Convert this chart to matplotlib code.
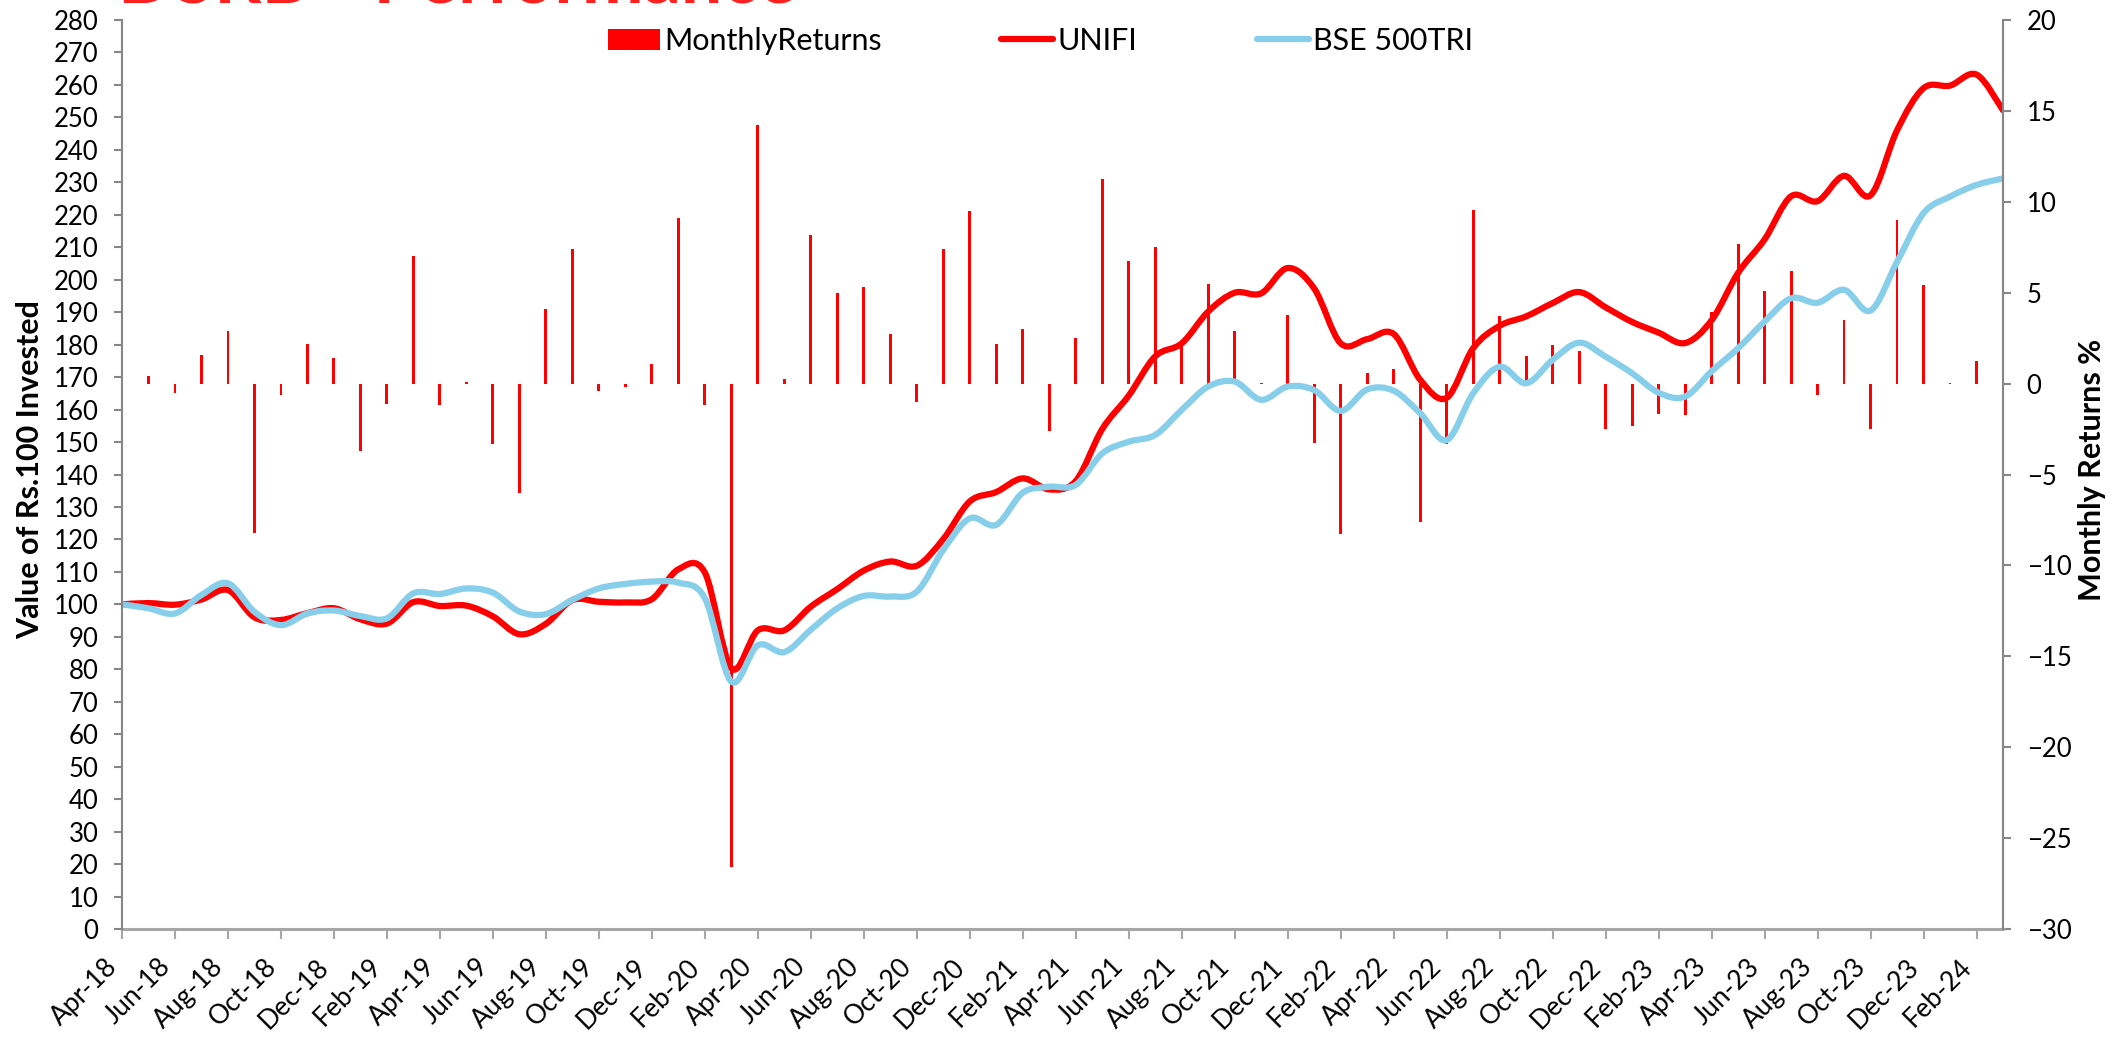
import matplotlib
matplotlib.use('Agg')
import matplotlib.pyplot as plt
from matplotlib.path import Path
from matplotlib.patches import PathPatch, Patch
from matplotlib.lines import Line2D
import numpy as np
import pandas as pd

plt.rcParams['font.family'] = ['Lato', 'DejaVu Sans']

# dados: valor de Rs.100 investido (Apr-18 .. Mar-24) e retornos mensais (May-18 .. Mar-24)
months = pd.date_range('2018-04-01', '2024-03-01', freq='MS')
month_labels = [d.strftime('%b-%y') for d in months]

unifi = [100.0, 100.4, 99.9, 101.5, 104.4, 96.0, 95.2, 97.3, 98.8, 95.4,
         94.1, 100.7, 99.5, 99.6, 96.3, 90.8, 94.0, 101.3, 100.8, 100.6,
         101.6, 110.8, 109.8, 80.3, 92.0, 92.0, 99.3, 104.7, 110.4, 113.2,
         111.9, 120.1, 131.7, 134.6, 138.8, 135.4, 138.0, 154.0, 164.3, 176.4,
         180.4, 190.2, 196.0, 195.8, 203.6, 197.3, 180.4, 181.7, 183.3, 169.2,
         163.6, 178.9, 185.8, 188.7, 192.8, 196.2, 191.5, 187.0, 183.7, 180.5,
         187.5, 202.1, 212.4, 225.7, 224.2, 232.0, 226.0, 246.0, 259.0, 259.8,
         263.2, 252.2]

bse500tri = [100.0, 98.8, 97.2, 102.9, 106.5, 97.7, 93.6, 97.2, 98.1, 96.4,
             95.7, 103.4, 103.2, 104.9, 103.6, 97.8, 97.0, 101.4, 104.9, 106.3,
             107.0, 106.7, 101.9, 76.2, 87.4, 85.3, 92.2, 98.8, 102.6, 102.4,
             103.9, 116.8, 126.5, 124.5, 134.4, 136.2, 136.8, 146.5, 150.1, 152.2,
             159.9, 167.1, 168.6, 163.0, 167.1, 166.0, 159.6, 166.2, 165.8, 158.9,
             150.6, 165.0, 173.2, 168.1, 175.3, 180.6, 176.3, 171.2, 165.2, 164.0,
             171.8, 178.9, 187.1, 194.3, 192.9, 196.9, 190.5, 205.5, 220.5, 225.6,
             229.2, 231.2]

monthly_returns = [0.4, -0.5, 1.6, 2.9, -8.2, -0.6, 2.2, 1.4, -3.7, -1.1,
                   7.0, -1.2, 0.1, -3.3, -6.0, 4.1, 7.4, -0.4, -0.2, 1.1,
                   9.1, -1.15, -26.6, 14.2, 0.25, 8.2, 5.0, 5.3, 2.75, -1.0,
                   7.4, 9.5, 2.2, 3.0, -2.6, 2.5, 11.25, 6.75, 7.5, 2.2,
                   5.5, 2.9, 0.05, 3.8, -3.25, -8.3, 0.6, 0.8, -7.6, -3.3,
                   9.55, 3.7, 1.5, 2.15, 1.8, -2.5, -2.35, -1.65, -1.75, 3.95,
                   7.7, 5.1, 6.2, -0.65, 3.5, -2.5, 9.0, 5.4, 0.05, 1.25,
                   -4.2]

RED = '#FF0000'
BLUE = '#87CEEB'
GRAY = '#868686'


def smooth_path(x, y):
    """Curva suavizada (Bezier) passando pelos pontos, como a linha suavizada do Excel"""
    p = np.column_stack([x, y]).astype(float)
    n = len(p)
    verts = [p[0]]
    codes = [Path.MOVETO]
    for i in range(n - 1):
        p0 = p[i - 1] if i > 0 else p[i]
        p3 = p[i + 2] if i + 2 < n else p[i + 1]
        c1 = p[i] + (p[i + 1] - p0) / 6.0
        c2 = p[i + 1] - (p3 - p[i]) / 6.0
        verts += [c1, c2, p[i + 1]]
        codes += [Path.CURVE4] * 3
    return Path(verts, codes)


x_line = np.arange(len(unifi))
x_bar = np.arange(1, len(monthly_returns) + 1)

fig = plt.figure(figsize=(21.10, 10.38), dpi=100)
ax = fig.add_axes([122 / 2110, 1 - 929 / 1038, (2003 - 122) / 2110, (929 - 20) / 1038])

# retornos mensais (eixo da direita), desenhados por baixo das linhas
ax.bar(x_bar, monthly_returns, width=0.11, color=RED, zorder=2)
ax.set_ylim(-30, 20)
ax.set_yticks(np.arange(-30, 21, 5))
ax.set_xlim(0, len(unifi) - 1)
ax.set_xticks(x_line[::2])
ax.set_xticklabels(month_labels[::2], rotation=45, ha='right', fontsize=19)

# valores investidos (eixo da esquerda)
ax2 = ax.twinx()
ax.yaxis.tick_right()
ax2.yaxis.tick_left()
ax2.add_patch(PathPatch(smooth_path(x_line, unifi), fill=False, edgecolor=RED,
                        lw=4.5, capstyle='round', joinstyle='round'))
ax2.add_patch(PathPatch(smooth_path(x_line, bse500tri), fill=False, edgecolor=BLUE,
                        lw=4.5, capstyle='round', joinstyle='round'))
ax2.set_ylim(0, 280)
ax2.set_yticks(np.arange(0, 281, 10))
ax2.set_xlim(0, len(unifi) - 1)

for a in (ax, ax2):
    a.spines['top'].set_visible(False)
    a.patch.set_visible(False)
ax.spines['left'].set_visible(False)
ax.spines['right'].set_visible(False)
ax2.spines['bottom'].set_visible(False)
for side in ('left', 'right'):
    ax2.spines[side].set_color(GRAY)
    ax2.spines[side].set_linewidth(1.5)
ax.spines['bottom'].set_color('#A6A6A6')
ax.spines['bottom'].set_linewidth(2.2)

ax.tick_params(axis='y', direction='out', length=6, width=1.5,
               color=GRAY, labelsize=18.5, pad=11)
ax.tick_params(axis='x', direction='out', length=7, width=1.5,
               color='#A6A6A6', pad=11)
ax2.tick_params(axis='y', direction='out', length=6, width=1.5,
                color=GRAY, labelsize=18.5, pad=11)

# legenda no topo
handles = [Patch(facecolor=RED, edgecolor='none'),
           Line2D([], [], color=RED, lw=4.5, solid_capstyle='round'),
           Line2D([], [], color=BLUE, lw=4.5, solid_capstyle='round')]
fig.legend(handles, ['MonthlyReturns', 'UNIFI', 'BSE 500TRI'], ncol=3,
           loc='center left', bbox_to_anchor=(608 / 2110, 1 - 41 / 1038),
           frameon=False, fontsize=22, handlelength=1.7, handletextpad=0.15,
           columnspacing=3.9, borderpad=0, borderaxespad=0)

# rótulos dos eixos e título (cortado no topo, como no original)
fig.text(30 / 2110, 1 - 470 / 1038, 'Value of Rs.100 Invested', rotation=90,
         ha='center', va='center', fontsize=22, fontweight='bold')
fig.text(2092 / 2110, 1 - 470 / 1038, 'Monthly Returns %', rotation=90,
         ha='center', va='center', fontsize=22, fontweight='bold')
fig.text(118 / 2110, 1 - 4 / 1038, 'DSRB - Performance', ha='left', va='baseline',
         fontsize=53, fontweight='bold', color='#FF2020')

fig.savefig('out.png', dpi=100)
